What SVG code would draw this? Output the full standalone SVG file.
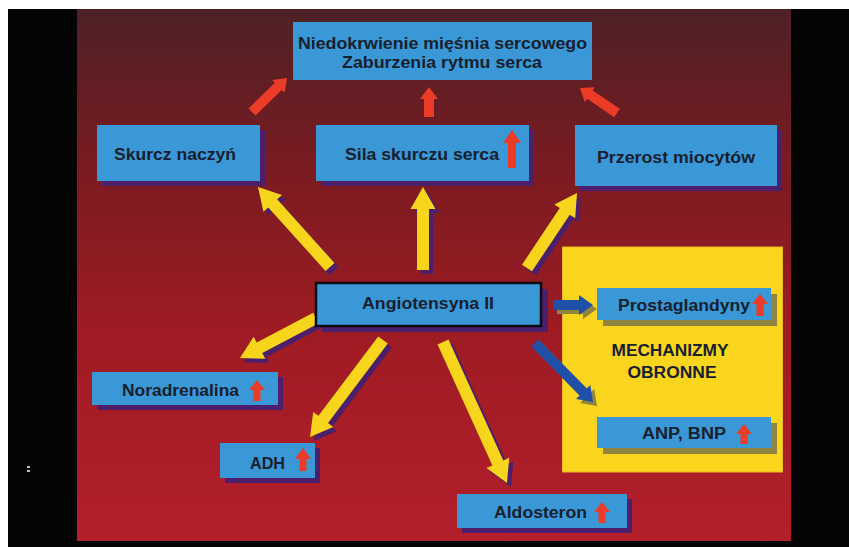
<svg xmlns="http://www.w3.org/2000/svg" width="849" height="547" viewBox="0 0 849 547">
<defs>
<linearGradient id="bg" x1="0" y1="0" x2="0" y2="1">
<stop offset="0" stop-color="#4d2126"/>
<stop offset="0.3" stop-color="#7a1b21"/>
<stop offset="0.6" stop-color="#9e1b23"/>
<stop offset="1" stop-color="#b31f2b"/>
</linearGradient>
<style>
.box{fill:#3b98d6}
.sh{fill:#4b1f6b}
.sho{fill:#8f8440}
.t{font-family:"Liberation Sans",Arial,sans-serif;font-weight:bold;font-size:16px;fill:#17202e}
.ya{fill:#f7d51c}
.ra{fill:#ec3b26}
.ba{fill:#1f4fa6}
</style>
</defs>
<rect x="0" y="0" width="849" height="547" fill="#ffffff"/>
<rect x="8" y="9" width="841" height="538" fill="#050505"/>
<rect x="77" y="9" width="714" height="532" fill="url(#bg)"/>
<rect x="27" y="466" width="3" height="2" fill="#bbbbbb"/>
<rect x="27" y="470" width="3" height="2" fill="#bbbbbb"/>

<g id="defence-area">
<rect x="562.5" y="247" width="220" height="225" fill="#f9d61d" stroke="#e8b82a" stroke-width="1"/>
<text class="t" x="670" y="356" text-anchor="middle" textLength="117" lengthAdjust="spacingAndGlyphs">MECHANIZMY</text>
<text class="t" x="672" y="378" text-anchor="middle" textLength="89" lengthAdjust="spacingAndGlyphs">OBRONNE</text>
</g>

<g id="connectors">
<!-- red arrows to top box -->
<path class="ra" transform="translate(252,112) rotate(-44.2)" d="M0,-5 L36.8,-5 L36.8,-9 L48.8,0 L36.8,9 L36.8,5 L0,5 Z"/>
<path class="ra" transform="translate(429,117) rotate(-90)" d="M0,-5 L18,-5 L18,-9 L30,0 L18,9 L18,5 L0,5 Z"/>
<path class="ra" transform="translate(617,113) rotate(-145.95)" d="M0,-5 L32.7,-5 L32.7,-9 L44.7,0 L32.7,9 L32.7,5 L0,5 Z"/>
<!-- yellow arrows with shadows -->
<g transform="translate(4,4)" class="sh">
<path transform="translate(330,267) rotate(-132)" d="M0,-6 L85.6,-6 L85.6,-12.5 L107.6,0 L85.6,12.5 L85.6,6 L0,6 Z"/>
<path transform="translate(423,270) rotate(-90)" d="M0,-6 L61,-6 L61,-12.5 L83,0 L61,12.5 L61,6 L0,6 Z"/>
<path transform="translate(527,268) rotate(-56.3)" d="M0,-6 L68.1,-6 L68.1,-12.5 L90.1,0 L68.1,12.5 L68.1,6 L0,6 Z"/>
<path transform="translate(316,318) rotate(152.2)" d="M0,-6 L63.9,-6 L63.9,-12.5 L85.9,0 L63.9,12.5 L63.9,6 L0,6 Z"/>
<path transform="translate(383,340) rotate(126.96)" d="M0,-6 L99.4,-6 L99.4,-12.5 L121.4,0 L99.4,12.5 L99.4,6 L0,6 Z"/>
<path transform="translate(443,342) rotate(65.6)" d="M0,-6 L132.8,-6 L132.8,-12.5 L154.8,0 L132.8,12.5 L132.8,6 L0,6 Z"/>
</g>
<g class="ya">
<path transform="translate(330,267) rotate(-132)" d="M0,-6 L85.6,-6 L85.6,-12.5 L107.6,0 L85.6,12.5 L85.6,6 L0,6 Z"/>
<path transform="translate(423,270) rotate(-90)" d="M0,-6 L61,-6 L61,-12.5 L83,0 L61,12.5 L61,6 L0,6 Z"/>
<path transform="translate(527,268) rotate(-56.3)" d="M0,-6 L68.1,-6 L68.1,-12.5 L90.1,0 L68.1,12.5 L68.1,6 L0,6 Z"/>
<path transform="translate(316,318) rotate(152.2)" d="M0,-6 L63.9,-6 L63.9,-12.5 L85.9,0 L63.9,12.5 L63.9,6 L0,6 Z"/>
<path transform="translate(383,340) rotate(126.96)" d="M0,-6 L99.4,-6 L99.4,-12.5 L121.4,0 L99.4,12.5 L99.4,6 L0,6 Z"/>
<path transform="translate(443,342) rotate(65.6)" d="M0,-6 L132.8,-6 L132.8,-12.5 L154.8,0 L132.8,12.5 L132.8,6 L0,6 Z"/>
</g>
<!-- blue arrows -->
<g transform="translate(4,4)" class="sho">
<path transform="translate(553,305) rotate(0)" d="M0,-5 L26,-5 L26,-10 L40,0 L26,10 L26,5 L0,5 Z"/>
<path transform="translate(535,343) rotate(45.5)" d="M0,-5 L68.7,-5 L68.7,-10 L82.7,0 L68.7,10 L68.7,5 L0,5 Z"/>
</g>
<g class="ba">
<path transform="translate(553,305) rotate(0)" d="M0,-5 L26,-5 L26,-10 L40,0 L26,10 L26,5 L0,5 Z"/>
<path transform="translate(535,343) rotate(45.5)" d="M0,-5 L68.7,-5 L68.7,-10 L82.7,0 L68.7,10 L68.7,5 L0,5 Z"/>
</g>
</g>

<g id="node-top">
<rect class="box" x="293" y="22" width="299" height="58"/>
<text class="t" x="298" y="49" textLength="289" lengthAdjust="spacingAndGlyphs">Niedokrwienie mięśnia sercowego</text>
<text class="t" x="342" y="68" textLength="200" lengthAdjust="spacingAndGlyphs">Zaburzenia rytmu serca</text>
</g>

<g id="node-skurcz">
<rect class="sh" x="102" y="130" width="163" height="56"/>
<rect class="box" x="97" y="125" width="163" height="56"/>
<text class="t" x="114" y="160" textLength="122" lengthAdjust="spacingAndGlyphs">Skurcz naczyń</text>
</g>

<g id="node-sila">
<rect class="sh" x="321" y="130" width="213" height="56"/>
<rect class="box" x="316" y="125" width="213" height="56"/>
<text class="t" x="345" y="160" textLength="154" lengthAdjust="spacingAndGlyphs">Sila skurczu serca</text>
<path class="ra" d="M508,168 L508,143 L503,143 L512,130 L521,143 L516,143 L516,168 Z"/>
</g>

<g id="node-przerost">
<rect class="sh" x="580" y="130" width="202" height="61"/>
<rect class="box" x="575" y="125" width="202" height="61"/>
<text class="t" x="597" y="163" textLength="158" lengthAdjust="spacingAndGlyphs">Przerost miocytów</text>
</g>

<g id="node-angiotensyna">
<rect class="sh" x="322" y="289" width="226" height="43"/>
<rect class="box" x="316" y="283" width="225" height="43" stroke="#0b0b14" stroke-width="2.5"/>
<text class="t" x="362" y="309" textLength="132" lengthAdjust="spacingAndGlyphs">Angiotensyna II</text>
</g>

<g id="node-prostaglandyny">
<rect class="sho" x="603" y="294" width="174" height="32"/>
<rect class="box" x="597" y="288" width="174" height="32"/>
<text class="t" x="618" y="311" textLength="132" lengthAdjust="spacingAndGlyphs">Prostaglandyny</text>
<path class="ra" d="M756.5,316 L756.5,304 L752,304 L760,294 L768,304 L763.5,304 L763.5,316 Z"/>
</g>

<g id="node-anp">
<rect class="sho" x="603" y="423" width="174" height="31"/>
<rect class="box" x="597" y="417" width="174" height="31"/>
<text class="t" x="642" y="439" textLength="84" lengthAdjust="spacingAndGlyphs">ANP, BNP</text>
<path class="ra" d="M740.5,444 L740.5,434 L736,434 L744,424 L752,434 L747.5,434 L747.5,444 Z"/>
</g>

<g id="node-noradrenalina">
<rect class="sh" x="97" y="377" width="186" height="33"/>
<rect class="box" x="92" y="372" width="186" height="33"/>
<text class="t" x="122" y="396" textLength="117" lengthAdjust="spacingAndGlyphs">Noradrenalina</text>
<path class="ra" d="M253.5,401 L253.5,390 L249,390 L257,380 L265,390 L260.5,390 L260.5,401 Z"/>
</g>

<g id="node-adh">
<rect class="sh" x="225" y="448" width="95" height="35"/>
<rect class="box" x="220" y="443" width="95" height="35"/>
<text class="t" x="250" y="469" textLength="35" lengthAdjust="spacingAndGlyphs">ADH</text>
<path class="ra" d="M299.5,471 L299.5,459 L295,459 L303,448 L311,459 L306.5,459 L306.5,471 Z"/>
</g>

<g id="node-aldosteron">
<rect class="sh" x="462" y="499" width="170" height="34"/>
<rect class="box" x="457" y="494" width="170" height="34"/>
<text class="t" x="494" y="518" textLength="93" lengthAdjust="spacingAndGlyphs">Aldosteron</text>
<path class="ra" d="M598.5,523 L598.5,512 L594,512 L602,502 L610,512 L605.5,512 L605.5,523 Z"/>
</g>
</svg>
